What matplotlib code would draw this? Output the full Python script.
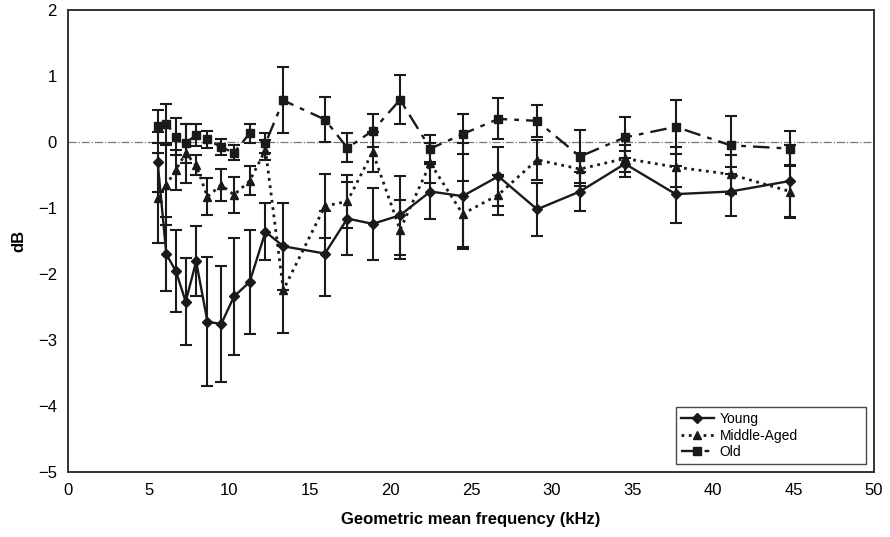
import numpy as np
import matplotlib
matplotlib.use('Agg')
import matplotlib.pyplot as plt
from matplotlib.lines import Line2D

plt.rcParams['font.family'] = ['Liberation Sans', 'DejaVu Sans']

# geometric mean frequencies (kHz)
freq = [5.56, 6.1, 6.7, 7.3, 7.95, 8.65, 9.5, 10.3, 11.27, 12.25, 13.36, 15.94,
        17.33, 18.9, 20.6, 22.48, 24.48, 26.7, 29.1, 31.76, 34.55, 37.7, 41.1, 44.8]

young = [-0.30, -1.70, -1.96, -2.42, -1.81, -2.72, -2.76, -2.34, -2.12, -1.36, -1.58, -1.69,
         -1.16, -1.24, -1.11, -0.75, -0.82, -0.52, -1.02, -0.75, -0.33, -0.79, -0.75, -0.59]
young_err = [0.45, 0.56, 0.62, 0.66, 0.53, 0.98, 0.88, 0.88, 0.79, 0.43, 0.66, 0.65,
             0.55, 0.55, 0.60, 0.42, 0.80, 0.45, 0.40, 0.30, 0.20, 0.43, 0.37, 0.55]

middle = [-0.85, -0.65, -0.42, -0.17, -0.35, -0.83, -0.65, -0.80, -0.59, -0.12, -2.24, -0.97,
          -0.90, -0.15, -1.33, -0.32, -1.09, -0.80, -0.27, -0.41, -0.25, -0.38, -0.49, -0.75]
middle_err = [0.68, 0.60, 0.30, 0.45, 0.15, 0.28, 0.24, 0.27, 0.22, 0.15, 0.66, 0.48,
              0.40, 0.30, 0.45, 0.30, 0.50, 0.30, 0.30, 0.25, 0.20, 0.30, 0.30, 0.40]

old = [0.24, 0.28, 0.08, -0.02, 0.11, 0.04, -0.08, -0.16, 0.13, -0.02, 0.63, 0.34,
       -0.09, 0.17, 0.64, -0.10, 0.12, 0.35, 0.32, -0.22, 0.07, 0.23, -0.05, -0.10]
old_err = [0.25, 0.30, 0.28, 0.30, 0.17, 0.13, 0.12, 0.12, 0.15, 0.15, 0.50, 0.34,
           0.22, 0.25, 0.37, 0.20, 0.30, 0.31, 0.24, 0.40, 0.31, 0.41, 0.44, 0.27]

INK = '#1a1a1a'
OLD_DASH = (0, (7, 3, 2, 3))

fig = plt.figure(figsize=(8.9, 5.37), dpi=100)
ax = fig.add_axes([0.0764, 0.121, 0.9056, 0.8604])

ax.axhline(0, color='#777777', lw=0.9, ls='-.', zorder=1)

ax.errorbar(freq, young, yerr=young_err, color=INK, ls='-', lw=1.7, marker='D', ms=5,
            capsize=4, elinewidth=1.5, capthick=1.5, zorder=3)
ax.errorbar(freq, middle, yerr=middle_err, color=INK, ls=':', lw=2.0, marker='^', ms=6,
            capsize=4, elinewidth=1.5, capthick=1.5, zorder=3)
ax.errorbar(freq, old, yerr=old_err, color=INK, ls=OLD_DASH, lw=1.7, marker='s', ms=6,
            capsize=4, elinewidth=1.5, capthick=1.5, zorder=3)

ax.set_xlim(0, 50)
ax.set_ylim(-5, 2)
ax.set_xticks(np.arange(0, 51, 5))
ax.set_yticks(np.arange(-5, 3, 1))
ax.tick_params(labelsize=12, length=0, pad=8)
for s in ax.spines.values():
    s.set_linewidth(1.4)
    s.set_color('#333333')

ax.set_xlabel('Geometric mean frequency (kHz)', fontsize=12, fontweight='bold', labelpad=10)
ax.set_ylabel('dB', fontsize=12, fontweight='bold', labelpad=8)

handles = [Line2D([], [], color=INK, ls='-', lw=1.7, marker='D', ms=5),
           Line2D([], [], color=INK, ls=':', lw=2.0, marker='^', ms=6),
           Line2D([], [], color=INK, ls=OLD_DASH, lw=1.7, marker='s', ms=6)]
leg = ax.legend(handles, ['Young', 'Middle-Aged', 'Old'], loc='lower left',
                bbox_to_anchor=(0.754, 0.017, 0.236, 0.122), mode='expand',
                fontsize=10, frameon=True, fancybox=False, edgecolor=INK,
                handlelength=2.4, borderpad=0.35, labelspacing=0.2, handletextpad=0.4,
                borderaxespad=0)
leg.get_frame().set_linewidth(1.0)

fig.savefig('out.png', dpi=100)
